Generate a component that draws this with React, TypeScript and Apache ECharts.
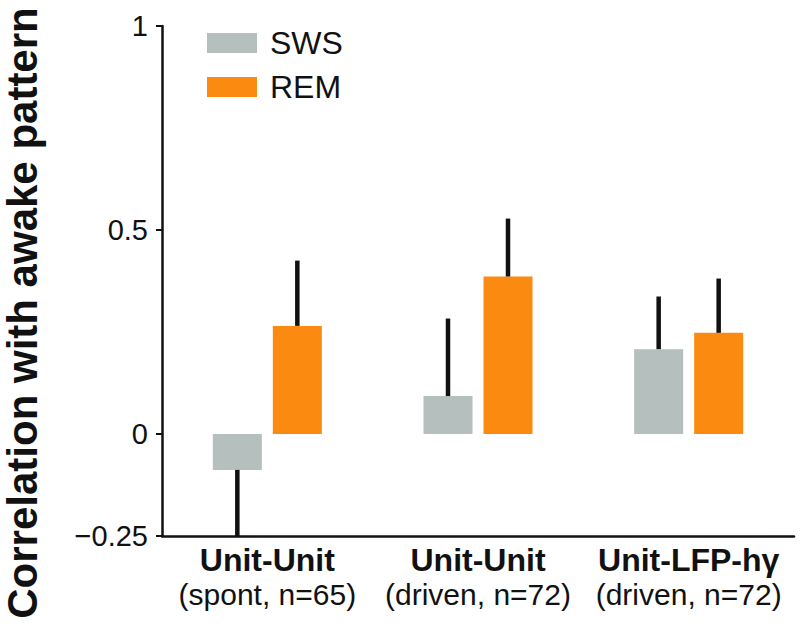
import React, { useEffect, useRef } from "react";
import * as echarts from "echarts";

const categoriesBold = ["Unit-Unit", "Unit-Unit", "Unit-LFP-hγ"];
const categoriesSub = ["(spont, n=65)", "(driven, n=72)", "(driven, n=72)"];
const swsValues = [-0.088, 0.093, 0.208];
const swsErrors = [0.165, 0.19, 0.129];
const remValues = [0.265, 0.386, 0.248];
const remErrors = [0.16, 0.142, 0.133];
const yTickValues = [-0.25, 0, 0.5, 1];

const SWS_COLOR = "#b5bfbd";
const REM_COLOR = "#fb8a10";
const BAR_WIDTH = 49;
const BAR_GAP = 11;
const FONT = "'Liberation Sans', Arial, Helvetica, sans-serif";

function fmtTick(v: number): string {
  if (v === 0) return "0";
  if (v < 0) return "\u2212" + String(Math.abs(v));
  return String(v);
}

function errorSeries(name: string, values: number[], errors: number[], side: number) {
  const offset = (side * (BAR_WIDTH + BAR_GAP)) / 2;
  return {
    type: "custom",
    name,
    clip: true,
    z: 5,
    data: values.map((v, i) => [i, v, errors[i]]),
    renderItem: (params: any, api: any) => {
      const idx = api.value(0);
      const v = api.value(1);
      const e = api.value(2);
      const end = v >= 0 ? v + e : v - e;
      const p0 = api.coord([idx, v]);
      const p1 = api.coord([idx, end]);
      return {
        type: "line",
        shape: { x1: p0[0] + offset, y1: p0[1], x2: p1[0] + offset, y2: p1[1] },
        style: { stroke: "#111111", lineWidth: 4.5 },
      };
    },
  };
}

export default function App() {
  const ref = useRef<HTMLDivElement>(null);
  useEffect(() => {
    if (!ref.current) return;
    const chart = echarts.init(ref.current, undefined, { renderer: "svg" });
    chart.setOption({
      animation: false,
      backgroundColor: "#ffffff",
      grid: { left: 162, right: 8, top: 26, bottom: 91, containLabel: false },
      legend: {
        orient: "vertical",
        left: 207,
        top: 27,
        padding: 0,
        itemWidth: 50,
        itemHeight: 20,
        itemGap: 12,
        icon: "rect",
        data: ["SWS", "REM"],
        textStyle: {
          fontFamily: FONT,
          fontSize: 32,
          lineHeight: 32,
          color: "#111111",
          padding: [0, 0, 0, 8],
        },
      },
      graphic: [
        {
          type: "text",
          x: 22,
          y: 313,
          rotation: Math.PI / 2,
          style: {
            text: "Correlation with awake pattern",
            fontFamily: FONT,
            fontWeight: "bold",
            fontSize: 42,
            fill: "#111111",
            textAlign: "center",
            textVerticalAlign: "middle",
          },
        },
      ],
      xAxis: {
        type: "category",
        data: categoriesBold.map((b, i) => b + "\n" + categoriesSub[i]),
        axisLine: { show: true, onZero: false, lineStyle: { color: "#111111", width: 2.5 } },
        axisTick: { show: false },
        axisLabel: {
          interval: 0,
          margin: 6,
          formatter: (val: string) => {
            const parts = val.split("\n");
            return "{b|" + parts[0] + "}\n{r|" + parts[1] + "}";
          },
          rich: {
            b: { fontFamily: FONT, fontWeight: "bold", fontSize: 32, lineHeight: 36, color: "#111111" },
            r: { fontFamily: FONT, fontSize: 30, lineHeight: 33, color: "#111111" },
          },
        },
        splitLine: { show: false },
      },
      yAxis: {
        type: "value",
        min: -0.25,
        max: 1,
        interval: 0.25,
        axisLine: { show: true, lineStyle: { color: "#111111", width: 2.5 } },
        axisTick: {
          show: true,
          length: 6,
          customValues: yTickValues,
          lineStyle: { color: "#111111", width: 2 },
        },
        axisLabel: {
          customValues: yTickValues,
          formatter: (v: number) => fmtTick(v),
          fontFamily: FONT,
          fontSize: 29,
          color: "#111111",
          margin: 14,
        },
        splitLine: { show: false },
      },
      series: [
        {
          type: "bar",
          name: "SWS",
          data: swsValues,
          barWidth: BAR_WIDTH,
          barGap: (BAR_GAP / BAR_WIDTH) * 100 + "%",
          itemStyle: { color: SWS_COLOR },
        },
        {
          type: "bar",
          name: "REM",
          data: remValues,
          barWidth: BAR_WIDTH,
          itemStyle: { color: REM_COLOR },
        },
        errorSeries("SWS err", swsValues, swsErrors, -1),
        errorSeries("REM err", remValues, remErrors, 1),
      ],
    });
    return () => chart.dispose();
  }, []);
  return <div ref={ref} style={{ width: 802, height: 627, position: "absolute", left: 0, top: 0 }} />;
}
